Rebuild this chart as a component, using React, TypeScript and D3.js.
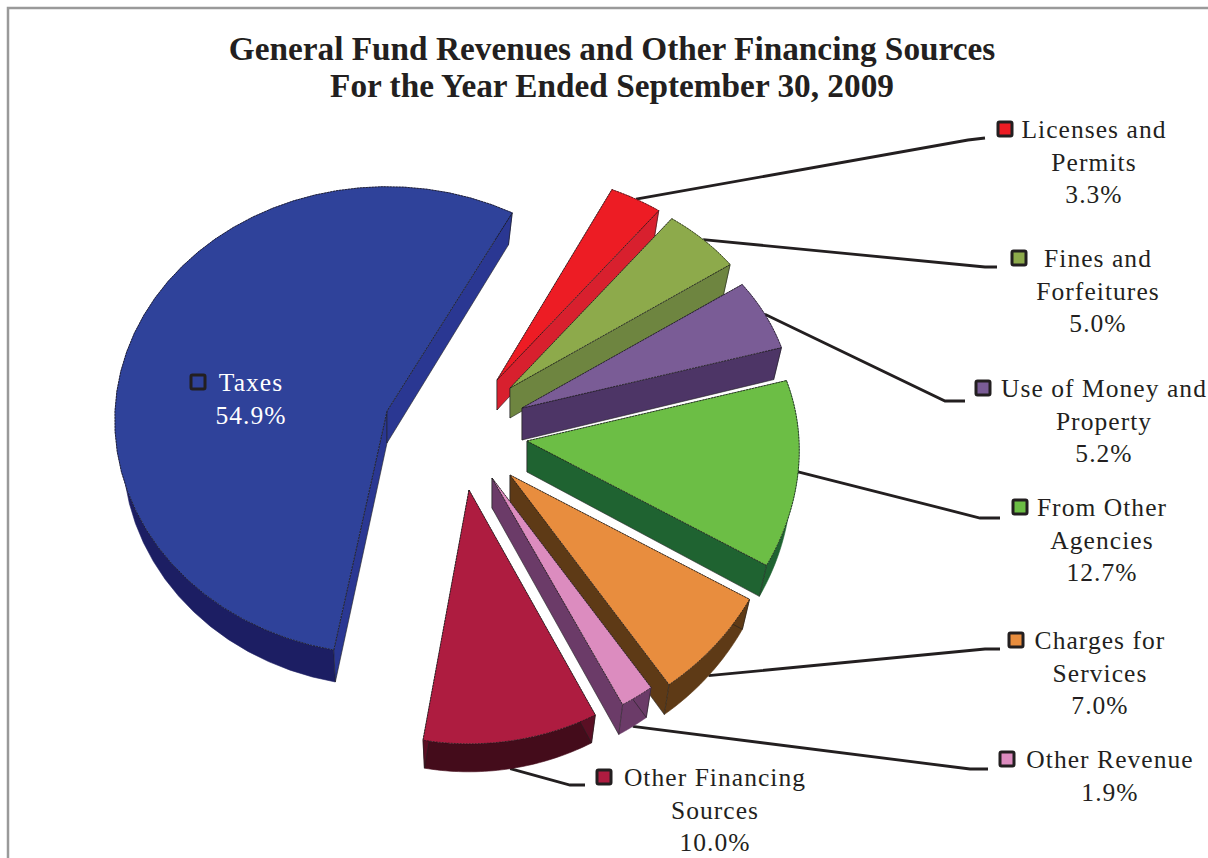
// App.tsx - exploded 3D pie, General Fund revenues FY2009
import React from "react";
import * as d3 from "d3";

const categories = [
  "Licenses and Permits",
  "Fines and Forfeitures",
  "Use of Money and Property",
  "From Other Agencies",
  "Charges for Services",
  "Other Revenue",
  "Other Financing Sources",
  "Taxes",
];
const shares = [3.3, 5.0, 5.2, 12.7, 7.0, 1.9, 10.0, 54.9];
const labelLines = [
  ["Licenses and", "Permits", "3.3%"],
  ["Fines and", "Forfeitures", "5.0%"],
  ["Use of Money and", "Property", "5.2%"],
  ["From Other", "Agencies", "12.7%"],
  ["Charges for", "Services", "7.0%"],
  ["Other Revenue", "1.9%"],
  ["Other Financing", "Sources", "10.0%"],
  ["Taxes", "54.9%"],
];
const titleLines = [
  "General Fund Revenues and Other Financing Sources",
  "For the Year Ended September 30, 2009",
];

// colours: top face, radial walls, outer wall
const topColors = ["#ED1C24", "#8DAA4B", "#7A5C96", "#6CBE45", "#E88D3E", "#DC8CBF", "#AE1C40", "#2F429A"];
const wallColors = ["#D8202E", "#6E8540", "#4D3566", "#1F6331", "#5E3A16", "#6B3B68", "#5A0F24", "#2A3792"];
const rimColors = ["#D8202E", "#6E8540", "#4D3566", "#1F6331", "#5E3A16", "#6B3B68", "#440C1B", "#1C1E63"];

// where each exploded slice has its apex, and small per-slice fixes to the projection
const apexX = [497, 510, 522, 527, 510, 492, 469, 387];
const apexY = [380, 388, 408, 441, 475, 478, 490, 411];
const spinDeg = [0, 0, 0, 0, 0, 0, 1, 2.5];
const perspY = [0.105, 0.105, 0.105, 0.105, 0.105, 0.105, 0.085, 0.041];
const depths = [30, 30, 32, 31, 30, 30, 28, 32];

// label layout: text centre, first baseline, key position, elbow of leader, leader end
const labelCx = [1094, 1098, 1104, 1102, 1100, 1110, 715, 251];
const labelY = [138, 267, 397, 516, 649, 768, 786, 391];
const keyX = [1005, 1019, 983, 1020, 1016, 1007, 604, 198];
const elbowX = [968, 985, 945, 980, 985, 970, 570, 0];
const elbowY = [140, 267, 401, 518, 649, 769, 785, 0];
const leaderEndX = [985, 997, 965, 1000, 1000, 988, 585, 0];
const leaderEndY = [138, 267, 401, 518, 649, 769, 785, 0];

const radius = 272;
const tilt = 0.86;
const kx = 0.04;
const floorShrink = 0.97;
const arcSteps = 40;

// flat pie plane -> screen offset, a bit of perspective makes the front slices bigger
function project(angle: number, r: number, ky: number): [number, number] {
  const x = r * Math.sin(angle);
  const y = -r * Math.cos(angle);
  return [x * (1 + (kx * y) / radius), y * tilt * (1 + (ky * y) / radius)];
}

export default function App() {
  const pie = d3
    .pie<number>()
    .sort(null)
    .startAngle((26 * Math.PI) / 180)
    .endAngle(((26 + 360) * Math.PI) / 180);
  const arcs = pie(shares);
  const line = d3.line<[number, number]>();
  const closed = (pts: [number, number][]) => line(pts) + "Z";

  const slices = arcs.map((a, i) => {
    const apex: [number, number] = [apexX[i], apexY[i]];
    const spin = (spinDeg[i] * Math.PI) / 180;
    const angles = d3
      .scaleLinear()
      .domain([0, arcSteps])
      .range([a.startAngle + spin, a.endAngle + spin]);
    const rim = d3.range(arcSteps + 1).map((k) => {
      const [x, y] = project(angles(k), radius, perspY[i]);
      return [apex[0] + x, apex[1] + y] as [number, number];
    });
    // the underside sits lower and narrows slightly towards the apex
    const down = (pts: [number, number][]) =>
      pts.map(([x, y]) => [apex[0] + (x - apex[0]) * floorShrink, y + depths[i]] as [number, number]);
    const first = rim[0];
    const last = rim[rim.length - 1];
    const mid = (a.startAngle + a.endAngle) / 2 + spin;
    const [mx, my] = project(mid, radius, perspY[i]);
    const onTop: [number, number] = [apex[0] + mx, apex[1] + my];
    // front slices have their leader hanging from the underside
    const leaderStart = Math.cos(mid) < -0.5 ? down([onTop])[0] : onTop;
    return {
      i,
      top: closed([apex, ...rim]),
      startWall: closed([apex, first, ...down([first, apex])]),
      endWall: closed([apex, last, ...down([last, apex])]),
      rimWall: closed([...rim, ...down(rim).reverse()]),
      leaderStart,
    };
  });

  // painter's order, from the back round to the front
  const drawOrder = [0, 1, 2, 3, 7, 4, 5, 6];

  return (
    <svg
      width={1208}
      height={858}
      style={{ position: "absolute", left: 0, top: 0, background: "#fff" }}
      fontFamily="'Liberation Serif', serif"
    >
      <path d="M8,858V8H1208" fill="none" stroke="#9a9a9a" strokeWidth={2.5} />

      {titleLines.map((t, i) => (
        <text
          key={t}
          x={612}
          y={60 + i * 37}
          textAnchor="middle"
          fontSize={33.3}
          fontWeight="bold"
          fill="#231F20"
        >
          {t}
        </text>
      ))}

      {slices
        .filter((s) => s.i !== 7)
        .map((s) => (
          <path
            key={s.i}
            d={line([s.leaderStart, [elbowX[s.i], elbowY[s.i]], [leaderEndX[s.i], leaderEndY[s.i]]]) ?? ""}
            fill="none"
            stroke="#231F20"
            strokeWidth={2.8}
          />
        ))}

      {drawOrder.map((i) => {
        const s = slices[i];
        return (
          <g key={categories[i]}>
            <path d={s.rimWall} fill={rimColors[i]} stroke={rimColors[i]} strokeWidth={0.6} />
            <path d={s.startWall} fill={wallColors[i]} stroke="#222" strokeWidth={0.6} />
            <path d={s.endWall} fill={wallColors[i]} stroke="#222" strokeWidth={0.6} />
            <path d={s.top} fill={topColors[i]} stroke="#1a1a1a" strokeWidth={1} strokeDasharray="2 1" strokeOpacity={0.75} />
          </g>
        );
      })}

      {labelLines.map((lines, i) => (
        <g key={categories[i]}>
          <rect
            x={keyX[i] - 7}
            y={labelY[i] - 9 - 7}
            width={14}
            height={14}
            rx={1.5}
            fill={topColors[i]}
            stroke="#231F20"
            strokeWidth={3}
          />
          {lines.map((t, k) => (
            <text
              key={t}
              x={labelCx[i]}
              y={labelY[i] + k * 32.6}
              textAnchor="middle"
              fontSize={25.5}
              letterSpacing={1.05}
              fill={i === 7 ? "#fff" : "#231F20"}
            >
              {t}
            </text>
          ))}
        </g>
      ))}
    </svg>
  );
}
